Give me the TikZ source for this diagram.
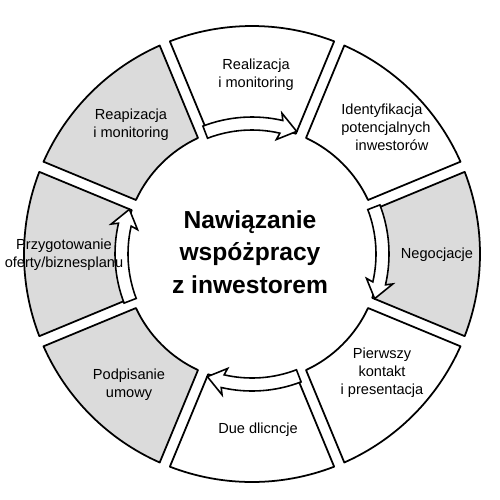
\documentclass[tikz,border=0pt]{standalone}
\usepackage{fontspec}
\setmainfont{Liberation Sans}
\begin{document}
\begin{tikzpicture}[scale=0.02,
  seg/.style={draw=black, line width=1pt, line join=round},
  fatarrow/.style={draw=black, fill=white, line width=0.9pt, line join=miter},
  lab/.style={font=\fontsize{8.3}{10.2}\selectfont, align=center, inner sep=0pt},
  title/.style={font=\bfseries\fontsize{14}{18.4}\selectfont, align=center, inner sep=0pt}]
\useasboundingbox (-252,-245) rectangle (248,254);
\def\Ro{228}\def\Ri{128}\def\dRo{1.38}\def\dRi{2.46}
\foreach \a/\f in {90/white,45/white,0/black!14,-45/white,-90/white,-135/black!14,180/black!14,135/black!14}{
  \pgfmathsetmacro\aA{\a+22.5-\dRo}
  \pgfmathsetmacro\aB{\a-22.5+\dRo}
  \pgfmathsetmacro\aC{\a-22.5+\dRi}
  \pgfmathsetmacro\aD{\a+22.5-\dRi}
  \draw[seg, fill=\f] (\aA:\Ro) arc[start angle=\aA, end angle=\aB, radius=\Ro] -- (\aC:\Ri) arc[start angle=\aC, end angle=\aD, radius=\Ri] -- cycle;
}
\foreach \a in {90,0,-90,180}{
  \pgfmathsetmacro\t{\a+21}
  \pgfmathsetmacro\p{\a-20}
  \pgfmathsetmacro\h{\a-13}
  \pgfmathsetmacro\hb{\a-12}
  \draw[fatarrow] (\t:137) arc[start angle=\t, end angle=\h, radius=137] -- (\hb:144) -- (\p:130.5) -- (\hb:117) -- (\h:124) arc[start angle=\h, end angle=\t, radius=124] -- cycle;
}
\node[lab] (real) at (4,179) {Realizacja\\i monitoring};
\node[lab, align=left, anchor=west] (ident) at (89,127) {Identyfikacja\\potencjalnych\\\hspace*{8pt}inwestorów};
\node[lab] (nego) at (185,-1) {Negocjacje};
\node[lab] (pierw) at (130,-119) {Pierwszy\\kontakt\\i presentacja};
\node[lab] (due) at (6,-176) {Due dlicncje};
\node[lab] (podp) at (-123,-131) {Podpisanie\\umowy};
\node[lab] (przyg) at (-188,-1) {Przygotowanie\\oferty/biznesplanu};
\node[lab] (reap) at (-121,129) {Reapizacja\\i monitoring};
\node[title] (center) at (-2,2) {Nawiązanie\\wspóżpracy\\z inwestorem};
\end{tikzpicture}
\end{document}
